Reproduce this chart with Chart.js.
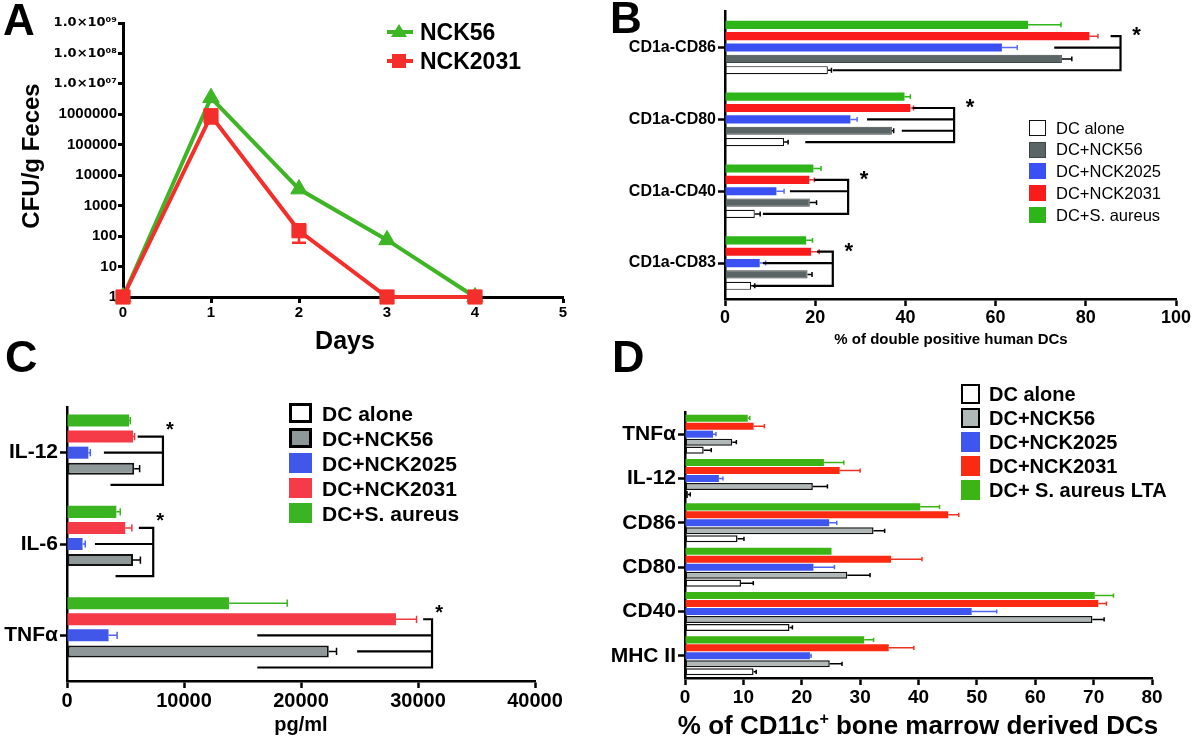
<!DOCTYPE html>
<html>
<head>
<meta charset="utf-8">
<script src="https://cdn.jsdelivr.net/npm/chart.js@4.4.1/dist/chart.umd.min.js"></script>
<style>
  body { margin: 0; background: #fff; font-family: "Liberation Sans", Arial, sans-serif; }
  #page { position: relative; width: 1200px; height: 737px; overflow: hidden; background: #fff; }
  canvas { position: absolute; }
  .txt { position: absolute; font-weight: bold; color: #000; white-space: nowrap; line-height: 1; }
  .leg { position: absolute; display: flex; align-items: center; white-space: nowrap; line-height: 1; color: #000; }
  .leg span.box { display: inline-block; box-sizing: border-box; }
</style>
</head>
<body>
<div id="page">
  <canvas id="chartA" width="600" height="342" style="left:0;top:0"></canvas>
  <canvas id="chartB" width="600" height="344" style="left:600px;top:0"></canvas>
  <canvas id="chartC" width="600" height="366" style="left:0;top:360px"></canvas>
  <canvas id="chartD" width="600" height="363" style="left:600px;top:360px"></canvas>
</div>
<script>
// ---- data ----

// A: CFU/g feces over days (log scale)
const daysA = [0, 1, 2, 3, 4];
const nck56A = [1, 3500000, 3500, 75, 1];
const nck2031A = [1, 900000, 150, 1, 1];
const nck2031ErrA = [0, 400000, 90, 0, 0];
const yTickValuesA = [1, 10, 100, 1000, 10000, 100000, 1000000, 10000000, 100000000, 1000000000];
const yTicksA = ['1', '10', '100', '1000', '10000', '100000', '1000000', '1.0×10⁰⁷', '1.0×10⁰⁸', '1.0×10⁰⁹'];
const xTicksA = ['0', '1', '2', '3', '4', '5'];

// series order (legend order)
const SERIES_KEYS = ['alone', 'nck56', 'nck2025', 'nck2031', 'aureus'];
const namesBC = ['DC alone', 'DC+NCK56', 'DC+NCK2025', 'DC+NCK2031', 'DC+S. aureus'];
const namesD = ['DC alone', 'DC+NCK56', 'DC+NCK2025', 'DC+NCK2031', 'DC+ S. aureus LTA'];

// B: % double positive human DCs
const catsB = ['CD1a-CD86', 'CD1a-CD80', 'CD1a-CD40', 'CD1a-CD83'];
const aloneB = [22.8, 13.1, 6.6, 5.8];
const aloneErrB = [0.8, 0.9, 1.2, 0.8];
const nck56B = [74.7, 37.0, 18.8, 18.3];
const nck56ErrB = [2.2, 0.4, 1.5, 1.0];
const nck2025B = [61.4, 27.8, 11.4, 7.7];
const nck2025ErrB = [3.4, 1.5, 1.7, 1.3];
const nck2031B = [80.8, 41.1, 18.7, 19.1];
const nck2031ErrB = [1.9, 0.7, 1.1, 1.8];
const aureusB = [67.2, 39.8, 19.6, 18.0];
const aureusErrB = [7.3, 1.3, 1.7, 1.4];
const xTicksB = ['0', '20', '40', '60', '80', '100'];
const bracketsB = [
  { cat: 0, at: 87.7, rows: [['nck2031', 85.5], ['nck2025', 73.0], ['alone', 23.9]] },
  { cat: 1, at: 50.8, rows: [['nck2031', 41.6], ['nck2025', 31.5], ['nck56', 39.2], ['alone', 17.8]] },
  { cat: 2, at: 27.3, rows: [['nck2031', 19.8], ['nck2025', 14.4], ['alone', 8.4]] },
  { cat: 3, at: 23.9, rows: [['nck2031', 20.4], ['nck2025', 8.4], ['alone', 6.2]] }
];

// C: cytokines, pg/ml
const catsC = ['IL-12', 'IL-6', 'TNFα'];
const aloneC = [0, 0, 0];
const aloneErrC = [0, 0, 0];
const nck56C = [5743, 5643, 22373];
const nck56ErrC = [464, 631, 664];
const nck2025C = [1826, 1328, 3552];
const nck2025ErrC = [166, 232, 730];
const nck2031C = [5643, 4979, 28116];
const nck2031ErrC = [133, 565, 1760];
const aureusC = [5311, 4216, 13842];
const aureusErrC = [100, 332, 4980];
const xTicksC = ['0', '10000', '20000', '30000', '40000'];
const bracketsC = [
  { cat: 0, at: 8200, rows: [['nck2031', 6041], ['nck2025', 3154], ['alone', 3718]] },
  { cat: 1, at: 7370, rows: [['nck2031', 6141], ['nck2025', 2390], ['alone', 4149]] },
  { cat: 2, at: 31200, rows: [['nck2031', 30440], ['nck2025', 16265], ['nck56', 24797], ['alone', 16265]] }
];

// D: % of CD11c+ BMDCs
const catsD = ['TNFα', 'IL-12', 'CD86', 'CD80', 'CD40', 'MHC II'];
const aloneD = [3.2, 0.5, 9.0, 9.6, 17.9, 11.75];
const aloneErrD = [1.3, 0.4, 1.1, 2.1, 0.5, 0.45];
const nck56D = [8.1, 21.9, 32.3, 27.8, 69.8, 24.8];
const nck56ErrD = [0.7, 2.5, 1.9, 3.9, 2.0, 2.1];
const nck2025D = [4.8, 5.8, 24.7, 22.0, 49.1, 21.4];
const nck2025ErrD = [0.5, 0.7, 1.3, 3.6, 4.3, 0.2];
const nck2031D = [11.75, 26.5, 45.1, 35.3, 70.8, 34.9];
const nck2031ErrD = [1.85, 3.5, 1.8, 5.3, 1.4, 4.3];
const aureusD = [10.75, 23.8, 40.3, 25.1, 70.2, 30.7];
const aureusErrD = [0.35, 3.4, 3.3, 0, 3.2, 1.6];
const xTicksD = ['0', '10', '20', '30', '40', '50', '60', '70', '80'];

// ---- style ----
const FONT = '"Liberation Sans", Arial, sans-serif';
Chart.defaults.font.family = FONT;
const GREEN_A = '#3db524', RED_A = '#f42e2a';

/* ---------- error bars + significance brackets ---------- */

const errBars = {
  id: 'errBars',
  beforeDatasetsDraw(chart, _a, opts) {
    if (chart.config.type !== 'line') return;
    const ctx = chart.ctx, ys = chart.scales.y;
    ctx.save();
    chart.data.datasets.forEach((ds, i) => {
      if (!ds.errors) return;
      ctx.strokeStyle = ds.errorColor;
      ctx.lineWidth = opts.errWidth;
      chart.getDatasetMeta(i).data.forEach((pt, j) => {
        const e = ds.errors[j];
        if (!e) return;
        const v = ds.data[j].y;
        const y0 = ys.getPixelForValue(v + e), y1 = ys.getPixelForValue(v - e);
        ctx.beginPath();
        ctx.moveTo(pt.x, y0); ctx.lineTo(pt.x, y1);
        ctx.moveTo(pt.x - 7, y0); ctx.lineTo(pt.x + 7, y0);
        ctx.moveTo(pt.x - 7, y1); ctx.lineTo(pt.x + 7, y1);
        ctx.stroke();
      });
    });
    ctx.restore();
  },
  afterDatasetsDraw(chart, _a, opts) {
    if (chart.config.type !== 'bar') return;
    const ctx = chart.ctx, xs = chart.scales.x;
    ctx.save();
    chart.data.datasets.forEach((ds, i) => {
      ctx.strokeStyle = ds.errorColor;
      ctx.lineWidth = opts.errWidth;
      chart.getDatasetMeta(i).data.forEach((bar, j) => {
        const e = ds.errors[j];
        if (!e) return;
        const x1 = xs.getPixelForValue(ds.data[j] + e);
        const h = bar.height * 0.6;
        ctx.beginPath();
        ctx.moveTo(bar.x, bar.y); ctx.lineTo(x1, bar.y);
        ctx.moveTo(x1, bar.y - h / 2); ctx.lineTo(x1, bar.y + h / 2);
        ctx.stroke();
      });
    });

    // brackets
    ctx.strokeStyle = '#000';
    ctx.fillStyle = '#000';
    ctx.lineWidth = opts.bracketWidth;
    ctx.font = 'bold ' + opts.starSize + 'px ' + FONT;
    ctx.textAlign = 'center';
    ctx.textBaseline = 'middle';
    (opts.brackets || []).forEach((b) => {
      const xv = xs.getPixelForValue(b.at);
      const rows = b.rows.map(([key, from]) => {
        const di = chart.data.datasets.findIndex((d) => d.key === key);
        const el = chart.getDatasetMeta(di).data[b.cat];
        return { y: el.y, x0: xs.getPixelForValue(from) };
      });
      const yTop = Math.min(...rows.map((r) => r.y));
      const yBot = Math.max(...rows.map((r) => r.y));
      ctx.beginPath();
      rows.forEach((r) => { ctx.moveTo(r.x0, r.y); ctx.lineTo(xv, r.y); });
      ctx.moveTo(xv, yTop - opts.bracketWidth / 2);
      ctx.lineTo(xv, yBot + opts.bracketWidth / 2);
      ctx.stroke();
      ctx.fillText('*', xv + opts.starDx, yTop + opts.starDy);
    });
    ctx.restore();
  }
};

/* ---------- helpers ---------- */

function axisGrid(w) {
  return { drawOnChartArea: false, drawTicks: true, tickLength: 7, tickWidth: w, tickColor: '#000', offset: false };
}

function hbar(id, p) {
  const datasets = SERIES_KEYS.map((key, i) => ({
    key,
    data: p.values[i],
    errors: p.errors[i],
    backgroundColor: p.fills[i],
    borderColor: p.borders[i],
    borderWidth: p.borderWidths[i],
    borderSkipped: false,
    errorColor: p.errColors[i],
    barPercentage: p.barPct,
    categoryPercentage: p.catPct
  })).reverse(); // green on top, white at the bottom

  return new Chart(document.getElementById(id), {
    type: 'bar',
    data: { labels: p.labels, datasets },
    options: {
      indexAxis: 'y',
      responsive: false,
      animation: false,
      layout: { padding: { top: p.padTop, right: p.padRight, left: 0, bottom: 0 } },
      plugins: {
        legend: { display: false },
        tooltip: { enabled: false },
        errBars: { brackets: p.brackets, starDx: p.starDx, starDy: p.starDy, starSize: p.starSize, errWidth: p.errWidth, bracketWidth: p.bracketWidth }
      },
      scales: {
        x: {
          type: 'linear', min: 0, max: p.xMax,
          ticks: { stepSize: p.xStep, color: '#000', padding: 1, maxRotation: 0, autoSkip: false,
                   font: { size: p.xTickSize, weight: 'bold' }, callback: (v, i) => p.xTicks[i] },
          grid: axisGrid(p.axisW),
          border: { color: '#000', width: p.axisW },
          afterFit: (s) => { s.height = p.xH; }
        },
        y: {
          ticks: { color: '#000', padding: 2, autoSkip: false, font: { size: p.yTickSize, weight: 'bold' } },
          grid: axisGrid(p.axisW),
          border: { color: '#000', width: p.axisW },
          afterFit: (s) => { s.width = p.yW; }
        }
      }
    },
    plugins: [errBars]
  });
}

const page = document.getElementById('page');

function text(str, x, baseline, size, opts = {}) {
  const d = document.createElement('div');
  d.className = 'txt';
  d.textContent = str;
  d.style.fontSize = size + 'px';
  d.style.top = (baseline - 0.847 * size) + 'px';
  d.style.left = x + 'px';
  if (opts.center) d.style.transform = 'translateX(-50%)';
  page.appendChild(d);
  return d;
}

function legend(x, y0, pitch, boxW, boxH, gap, names, fills, borders, size, weight) {
  names.forEach((n, i) => {
    const row = document.createElement('div');
    row.className = 'leg';
    row.style.left = x + 'px';
    row.style.top = (y0 + i * pitch - boxH / 2) + 'px';
    row.style.height = boxH + 'px';
    row.style.fontSize = size + 'px';
    row.style.fontWeight = weight;
    const box = document.createElement('span');
    box.className = 'box';
    box.style.width = boxW + 'px';
    box.style.height = boxH + 'px';
    box.style.background = fills[i];
    box.style.border = borders[i];
    box.style.marginRight = gap + 'px';
    row.appendChild(box);
    row.appendChild(document.createTextNode(n));
    page.appendChild(row);
  });
}

/* ---------- A: line chart ---------- */

new Chart(document.getElementById('chartA'), {
  type: 'line',
  data: {
    datasets: [
      {
        label: 'NCK2031',
        data: daysA.map((d, i) => ({ x: d, y: nck2031A[i] })),
        errors: nck2031ErrA,
        errorColor: RED_A,
        borderColor: RED_A, backgroundColor: RED_A,
        pointBackgroundColor: RED_A, pointBorderColor: RED_A,
        borderWidth: 4, tension: 0, pointStyle: 'rect', pointRadius: 10, pointBorderWidth: 1, clip: false
      },
      {
        label: 'NCK56',
        data: daysA.map((d, i) => ({ x: d, y: nck56A[i] })),
        borderColor: GREEN_A, backgroundColor: GREEN_A,
        pointBackgroundColor: GREEN_A, pointBorderColor: GREEN_A,
        borderWidth: 4, tension: 0, pointStyle: 'triangle', pointRadius: 9.5, pointBorderWidth: 1, clip: false
      }
    ]
  },
  options: {
    responsive: false,
    animation: false,
    layout: { padding: { top: 23, right: 37, left: 0, bottom: 0 } },
    plugins: { legend: { display: false }, tooltip: { enabled: false }, errBars: { errWidth: 2.5 } },
    scales: {
      x: {
        type: 'linear', min: 0, max: 5,
        ticks: { stepSize: 1, color: '#000', padding: 1, maxRotation: 0, autoSkip: false,
                 font: { size: 15, weight: 'bold' }, callback: (v, i) => xTicksA[i] },
        grid: { ...axisGrid(3), tickLength: 6 },
        border: { color: '#000', width: 3 },
        afterFit: (s) => { s.height = 45; }
      },
      y: {
        type: 'logarithmic', min: 1, max: 1000000000,
        afterBuildTicks: (s) => { s.ticks = yTickValuesA.map((v) => ({ value: v })); },
        ticks: { color: '#000', padding: 1, autoSkip: false,
                 font: (c) => (c.tick && c.tick.value >= 10000000
                   ? { size: 13, weight: 'bold', family: '"DejaVu Sans", sans-serif' }
                   : { size: 15, weight: 'bold' }),
                 callback: (v, i) => yTicksA[i] },
        grid: { ...axisGrid(3), tickLength: 5 },
        border: { color: '#000', width: 3 },
        afterFit: (s) => { s.width = 123; }
      }
    }
  },
  plugins: [errBars]
});

/* ---------- B ---------- */

hbar('chartB', {
  labels: catsB,
  values: [aloneB, nck56B, nck2025B, nck2031B, aureusB],
  errors: [aloneErrB, nck56ErrB, nck2025ErrB, nck2031ErrB, aureusErrB],
  fills: ['#ffffff', '#5b6565', '#3b50f2', '#fa1c1c', '#2db51a'],
  borders: ['#111', '#3e4545', '#3b50f2', '#fa1c1c', '#2db51a'],
  borderWidths: [1.2, 1, 0, 0, 0],
  errColors: ['#000', '#000', '#5a6cf5', '#f03a3a', '#2db51a'],
  barPct: 0.72, catPct: 0.79,
  xMax: 100, xStep: 20, xTicks: xTicksB,
  padTop: 7, padRight: 24, xH: 45, yW: 125,
  xTickSize: 18, yTickSize: 16, axisW: 2.5,
  brackets: bracketsB, starDx: 16, starDy: 0, starSize: 22, errWidth: 1.5, bracketWidth: 2.2
});

/* ---------- C ---------- */

hbar('chartC', {
  labels: catsC,
  values: [aloneC, nck56C, nck2025C, nck2031C, aureusC],
  errors: [aloneErrC, nck56ErrC, nck2025ErrC, nck2031ErrC, aureusErrC],
  fills: ['#ffffff', '#8e9898', '#4057ea', '#f53a48', '#3ab521'],
  borders: ['#000', '#111', '#4057ea', '#f53a48', '#3ab521'],
  borderWidths: [0, 2, 0, 0, 0],
  errColors: ['#000', '#000', '#4d62f0', '#f03a3a', '#3ab521'],
  barPct: 0.75, catPct: 0.88,
  xMax: 40000, xStep: 10000, xTicks: xTicksC,
  padTop: 47, padRight: 65, xH: 45, yW: 67,
  xTickSize: 20, yTickSize: 21, axisW: 2.5,
  brackets: bracketsC, starDx: 7, starDy: -6, starSize: 20, errWidth: 1.5, bracketWidth: 2.2
});

/* ---------- D ---------- */

hbar('chartD', {
  labels: catsD,
  values: [aloneD, nck56D, nck2025D, nck2031D, aureusD],
  errors: [aloneErrD, nck56ErrD, nck2025ErrD, nck2031ErrD, aureusErrD],
  fills: ['#ffffff', '#b0b8b8', '#3f55f0', '#fb2a12', '#3cb416'],
  borders: ['#111', '#111', '#3f55f0', '#fb2a12', '#3cb416'],
  borderWidths: [1.5, 1.5, 0, 0, 0],
  errColors: ['#000', '#000', '#5066f2', '#f03020', '#3cb416'],
  barPct: 0.88, catPct: 0.9,
  xMax: 80, xStep: 10, xTicks: xTicksD,
  padTop: 52, padRight: 48, xH: 45, yW: 85,
  xTickSize: 19, yTickSize: 21, axisW: 2.5,
  brackets: [], starDx: 0, starDy: 0, starSize: 20, errWidth: 1.5, bracketWidth: 2
});

/* ---------- text: panel letters, titles, legends ---------- */

text('A', 3, 35, 44);
text('B', 610, 33, 44);
text('C', 5, 372, 45);
text('D', 612, 372, 45);

text('Days', 345, 349, 25, { center: true });
const yt = text('CFU/g Feces', 31, 0, 24);
yt.style.top = '156px';
yt.style.transform = 'translate(-50%, -50%) rotate(-90deg)';

text('% of double positive human DCs', 951, 344, 15, { center: true });
text('pg/ml', 301, 731, 20, { center: true });
const dt = text('', 918, 734, 26, { center: true });
dt.innerHTML = '% of CD11c<sup style="font-size:16px;vertical-align:10px;line-height:0">+</sup> bone marrow derived DCs';

// A legend: line + marker drawn with inline svg, text as real text
[['NCK56', GREEN_A, 'tri', 32], ['NCK2031', RED_A, 'sq', 61]].forEach(([name, col, shape, cy]) => {
  const row = document.createElement('div');
  row.className = 'leg';
  row.style.left = '387px';
  row.style.top = (cy - 12) + 'px';
  row.style.height = '24px';
  row.style.fontSize = '23px';
  row.style.fontWeight = 'bold';
  const mark = shape === 'tri'
    ? '<polygon points="12,4 20,17 4,17" fill="' + col + '"/>'
    : '<rect x="5" y="5" width="14" height="14" fill="' + col + '"/>';
  row.innerHTML = '<svg width="26" height="24" style="margin-right:7px"><line x1="0" y1="12" x2="26" y2="12" stroke="' + col + '" stroke-width="4"/>' + mark + '</svg>' + name;
  page.appendChild(row);
});

legend(1029, 128, 21.7, 17, 16, 10, namesBC,
  ['#fff', '#5b6565', '#3b50f2', '#fa1c1c', '#2db51a'],
  ['1.2px solid #111', '1px solid #3e4545', 'none', 'none', 'none'], 16.5, 'normal');

legend(289, 413, 25, 23, 20, 10, namesBC,
  ['#fff', '#8e9898', '#4057ea', '#f53a48', '#3ab521'],
  ['3px solid #000', '3px solid #000', 'none', 'none', 'none'], 21, 'bold');

legend(961, 394, 24, 19, 20, 9, namesD,
  ['#fff', '#b0b8b8', '#3f55f0', '#fb2a12', '#3cb416'],
  ['2.5px solid #000', '2.5px solid #000', 'none', 'none', 'none'], 20, 'bold');
</script>
</body>
</html>
